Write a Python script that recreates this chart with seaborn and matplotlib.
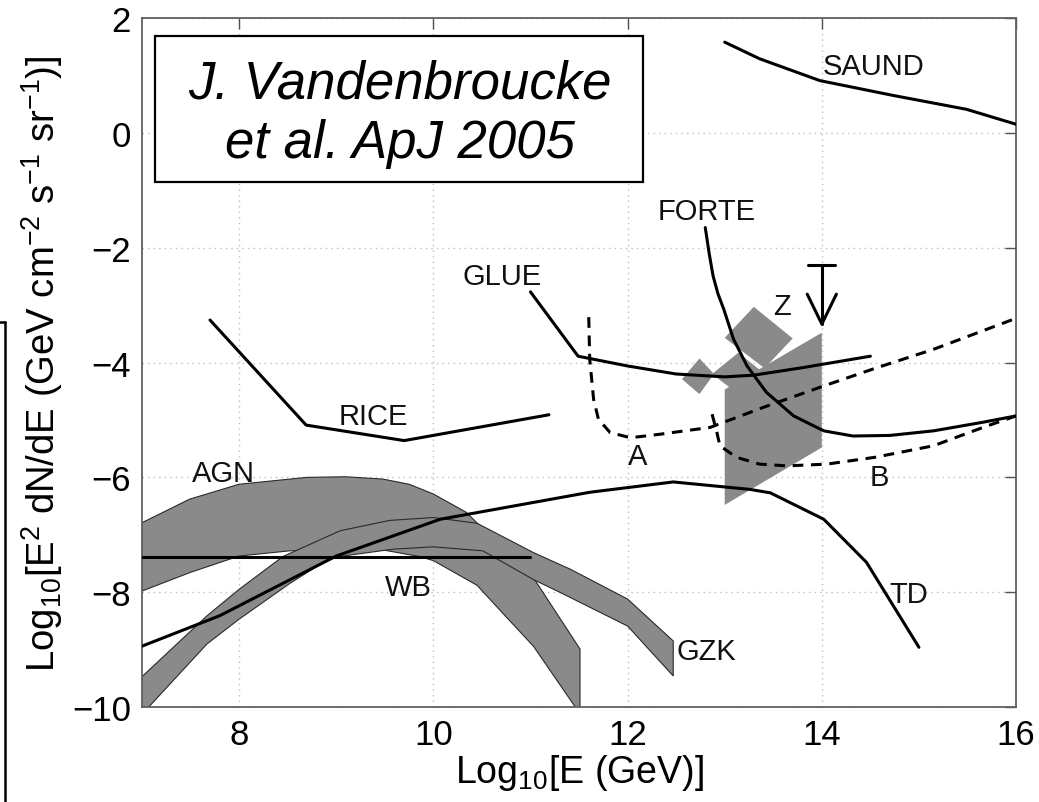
import matplotlib
matplotlib.use("Agg")
import matplotlib.pyplot as plt
from matplotlib.lines import Line2D
from matplotlib.patches import Rectangle
import seaborn as sns

# ---- experiment limits (log10 E [GeV], log10 E^2 dN/dE) ----
saund_x = [13.0, 13.36, 13.98, 14.74, 15.49, 16.0]
saund_y = [1.58, 1.29, 0.91, 0.65, 0.41, 0.15]

forte_x = [12.80, 12.84, 12.88, 12.93, 12.99, 13.09, 13.23, 13.43, 13.71, 14.02, 14.32, 14.70, 15.15, 15.66, 16.0]
forte_y = [-1.65, -2.10, -2.49, -2.80, -3.07, -3.59, -4.06, -4.52, -4.93, -5.19, -5.28, -5.27, -5.19, -5.04, -4.93]

glue_x = [11.0, 11.49, 12.0, 12.5, 13.0, 13.3, 13.8, 14.5]
glue_y = [-2.77, -3.89, -4.06, -4.20, -4.25, -4.22, -4.09, -3.89]

rice_x = [7.70, 8.69, 9.70, 11.19]
rice_y = [-3.26, -5.09, -5.36, -4.91]

# ---- projected sensitivities (dashed) ----
a_x = [11.60, 11.61, 11.65, 11.70, 11.82, 12.03, 12.33, 12.85, 13.40, 14.00, 14.55, 15.15, 16.0]
a_y = [-3.21, -3.94, -4.64, -4.99, -5.22, -5.31, -5.25, -5.13, -4.78, -4.42, -4.10, -3.77, -3.23]

b_x = [12.87, 12.92, 12.95, 13.12, 13.36, 13.64, 14.05, 14.55, 15.15, 15.66, 16.0]
b_y = [-4.90, -5.22, -5.45, -5.65, -5.77, -5.80, -5.77, -5.65, -5.45, -5.13, -4.93]

# ---- model fluxes ----
td_x = [7.0, 7.8, 9.0, 10.07, 11.61, 12.47, 13.26, 13.47, 14.02, 14.46, 15.0]
td_y = [-8.94, -8.41, -7.37, -6.73, -6.26, -6.08, -6.21, -6.27, -6.73, -7.48, -8.96]

wb_x = [7.0, 11.0]
wb_y = [-7.38, -7.38]

agn_upper_x = [7.0, 7.49, 8.0, 8.7, 9.1, 9.48, 9.75, 10.0, 10.34, 10.5, 11.05, 11.51]
agn_upper_y = [-6.79, -6.38, -6.12, -6.00, -5.99, -6.03, -6.12, -6.29, -6.61, -6.88, -7.80, -8.99]
agn_lower_x = [11.51, 11.03, 10.76, 10.45, 10.0, 9.86, 9.5, 9.0, 8.52, 8.0, 7.49, 7.0]
agn_lower_y = [-10.12, -8.94, -8.45, -7.88, -7.45, -7.38, -7.27, -7.26, -7.28, -7.37, -7.66, -7.98]

gzk_upper_x = [6.95, 7.67, 8.0, 8.45, 9.04, 9.55, 10.0, 10.45, 11.03, 11.41, 12.0, 12.47]
gzk_upper_y = [-9.55, -8.41, -7.95, -7.38, -6.93, -6.75, -6.70, -6.80, -7.31, -7.60, -8.12, -8.85]
gzk_lower_x = [12.47, 12.0, 11.3, 11.03, 10.51, 10.0, 9.59, 8.94, 8.52, 8.0, 7.67, 7.08, 6.95]
gzk_lower_y = [-9.46, -8.59, -8.00, -7.78, -7.28, -7.21, -7.25, -7.40, -7.85, -8.47, -8.90, -9.98, -10.15]

# ---- Z-burst regions ----
zb_x = [13.0, 14.0, 14.0, 13.0]
zb_y = [-4.47, -3.48, -5.48, -6.48]
z1_x = [13.0, 13.30, 13.70, 13.41]
z1_y = [-3.57, -3.03, -3.58, -4.10]
z2_x = [12.87, 13.14, 13.40, 13.11]
z2_y = [-4.20, -3.83, -4.18, -4.51]
z3_x = [12.56, 12.74, 12.89, 12.74]
z3_y = [-4.29, -3.93, -4.20, -4.55]

# upper limit at 10^14 GeV
limit_x = 14.0
limit_top = -2.30
limit_tip = -3.33

# ---- curve labels (baseline positions) ----
label_text = ["SAUND", "FORTE", "GLUE", "RICE", "AGN", "WB", "A", "B", "Z", "TD", "GZK"]
label_x = [14.53, 12.81, 10.71, 9.38, 7.84, 9.74, 12.10, 14.59, 13.59, 14.90, 12.81]
label_y = [1.03, -1.50, -2.63, -5.07, -6.06, -8.05, -5.77, -6.14, -3.15, -8.17, -9.16]

x_ticks = [8, 10, 12, 14, 16]
y_ticks = [-10, -8, -6, -4, -2, 0, 2]

# ---------------------------------------------------------------
sns.set_theme(style="white")
plt.rcParams["font.family"] = ["Liberation Sans", "DejaVu Sans"]
plt.rcParams["mathtext.fontset"] = "custom"
plt.rcParams["mathtext.rm"] = "Liberation Sans"
plt.rcParams["mathtext.it"] = "Liberation Sans:italic"
plt.rcParams["mathtext.bf"] = "Liberation Sans:bold"
plt.rcParams["text.color"] = "black"
plt.rcParams["axes.labelcolor"] = "black"

fig = plt.figure(figsize=(10.39, 8.03), dpi=100)
ax = fig.add_axes([0.1367, 0.1183, 0.8412, 0.858])

band_face = "#8a8a8a"
band_edge = "#2a2a2a"

# flux bands
ax.fill(agn_upper_x + agn_lower_x, agn_upper_y + agn_lower_y,
        facecolor=band_face, edgecolor=band_edge, lw=0.8, zorder=2)
ax.fill(gzk_upper_x + gzk_lower_x, gzk_upper_y + gzk_lower_y,
        facecolor=band_face, edgecolor=band_edge, lw=0.8, zorder=2.1)

# Z-burst regions
for px, py in [(zb_x, zb_y), (z3_x, z3_y), (z2_x, z2_y), (z1_x, z1_y)]:
    ax.fill(px, py, facecolor=band_face, edgecolor="none", zorder=2.2)

line_kw = dict(color="black", lw=2.2, sort=False, estimator=None, ax=ax, zorder=3)
for cx, cy in [(saund_x, saund_y), (forte_x, forte_y), (glue_x, glue_y),
               (rice_x, rice_y), (td_x, td_y), (wb_x, wb_y)]:
    sns.lineplot(x=cx, y=cy, **line_kw)
for cx, cy in [(a_x, a_y), (b_x, b_y)]:
    sns.lineplot(x=cx, y=cy, linestyle=(0, (3.5, 2.5)), **line_kw)

# upper-limit symbol: bar, stem and open arrowhead
head_w, head_h = 0.15, 0.52
ax.plot([limit_x - 0.14, limit_x + 0.14], [limit_top, limit_top], color="black", lw=2.2, zorder=3)
ax.plot([limit_x, limit_x], [limit_top, limit_tip], color="black", lw=2.2, zorder=3)
ax.plot([limit_x - head_w, limit_x, limit_x + head_w],
        [limit_tip + head_h, limit_tip, limit_tip + head_h], color="black", lw=2.2, zorder=3)

for t, lx, ly in zip(label_text, label_x, label_y):
    ax.text(lx, ly, t, ha="center", va="baseline", fontsize=21, color="#111111", zorder=4)

# citation box
ax.add_patch(Rectangle((0.0149, 0.7615), 0.5583, 0.2128, transform=ax.transAxes,
                       facecolor="white", edgecolor="black", lw=1.6, zorder=5))
ax.text(0.2946, 0.8849, "J. Vandenbroucke", transform=ax.transAxes, ha="center",
        va="baseline", fontsize=38, style="italic", color="black", zorder=6)
ax.text(0.2946, 0.7978, "et al. ApJ 2005", transform=ax.transAxes, ha="center",
        va="baseline", fontsize=38, style="italic", color="black", zorder=6)

ax.set_xlim(7, 16)
ax.set_ylim(-10, 2)
ax.set_xticks(x_ticks)
ax.set_yticks(y_ticks)
ax.set_axisbelow(True)
ax.grid(True, linestyle=(0, (1, 3)), color="#bdbdbd", lw=1.0)
ax.tick_params(direction="in", length=8, width=1.0, top=True, right=True,
               labelsize=25, pad=8, color="#505050", labelcolor="black")
for sp in ax.spines.values():
    sp.set_color("#606060")
    sp.set_linewidth(1.3)

ax.set_xlabel(r"Log$_{10}$[E (GeV)]", fontsize=27)
ax.xaxis.set_label_coords(0.5, -0.066)
ax.set_ylabel(r"Log$_{10}$[E$^2$ dN/dE (GeV cm$^{-2}$ s$^{-1}$ sr$^{-1}$)]", fontsize=27.5)
ax.yaxis.set_label_coords(-0.088, 0.5)

# border of the neighbouring panel at the left edge
x0 = 4.5 / 1039
y0 = 1 - 323 / 803
fig.add_artist(Line2D([x0, x0], [y0, 0], transform=fig.transFigure, color="black", lw=1.8))
fig.add_artist(Line2D([0, x0], [y0, y0], transform=fig.transFigure, color="black", lw=1.8))

fig.savefig("out.png", dpi=100)
